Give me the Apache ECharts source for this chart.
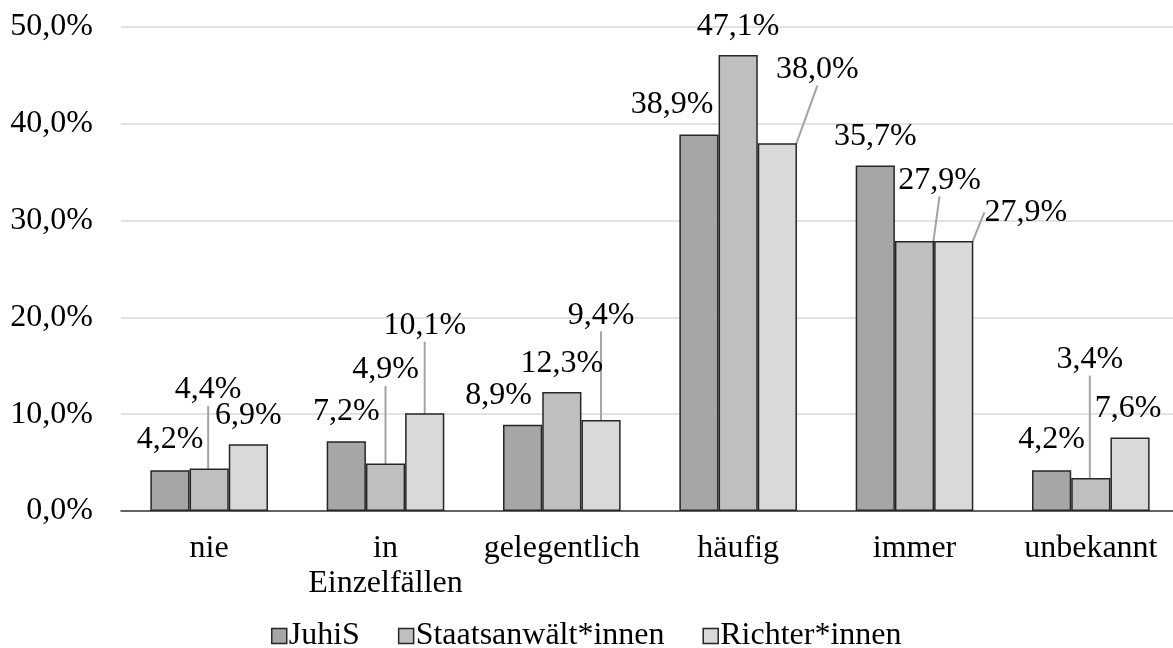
<!DOCTYPE html>
<html>
<head>
<meta charset="utf-8">
<title>Häufigkeit</title>
<script src="https://cdn.jsdelivr.net/npm/echarts@6/dist/echarts.min.js"></script>
<style>
  html, body { margin: 0; padding: 0; background: #fff; }
  #main { width: 1173px; height: 648px; }
</style>
</head>
<body>
<div id="main"></div>
<script>
// Daten
var categories = ['nie', 'in\nEinzelfällen', 'gelegentlich', 'häufig', 'immer', 'unbekannt'];
var seriesNames = ['JuhiS', 'Staatsanwält*innen', 'Richter*innen'];
var juhis = [4.2, 7.2, 8.9, 38.9, 35.7, 4.2];
var staatsanwaelte = [4.4, 4.9, 12.3, 47.1, 27.9, 3.4];
var richter = [6.9, 10.1, 9.4, 38.0, 27.9, 7.6];

// Verschiebung der Beschriftungen [dx, dy] und ob eine Führungslinie gezeichnet wird
var shifts = [
    [[0, -10], [0, -9], [-24, -9], [-27, -9], [0, -8], [0, -10]],
    [[-1, -58], [0, -73], [0, -8], [0, -8], [25, -40], [-1, -98]],
    [[0, -8], [0, -67], [0, -84], [40, -53], [72, -8], [-2, -8]]
];
var guides = [
    [false, false, false, false, false, false],
    [true, true, false, false, true, true],
    [false, true, true, true, true, false]
];
var colors = ['#a6a6a6', '#bfbfbf', '#d9d9d9'];

var font = 'Liberation Serif';
var fs = 32;
function pct(v) {
    return v.toFixed(1).replace('.', ',') + '%';
}

var values = [juhis, staatsanwaelte, richter];
var guideStyle = { color: '#a3a3a3', width: 2 };
var series = [];
for (var s = 0; s < 3; s++) {
    (function (s) {
        series.push({
            name: seriesNames[s],
            type: 'bar',
            barGap: '0%',
            barCategoryGap: '33.3%',
            itemStyle: {
                color: colors[s],
                borderColor: '#262626',
                borderWidth: 1.5
            },
            label: {
                show: true,
                position: 'top',
                distance: 5,
                fontFamily: font,
                fontSize: fs,
                lineHeight: 31,
                color: '#000',
                formatter: function (p) { return pct(p.value); }
            },
            labelLine: {
                show: false,
                lineStyle: guideStyle
            },
            labelLayout: function (p) {
                var d = shifts[s][p.dataIndex];
                return { dx: d[0], dy: d[1] };
            },
            data: values[s].map(function (v, i) {
                return {
                    value: v,
                    labelLine: { show: guides[s][i], lineStyle: guideStyle }
                };
            })
        });
    })(s);
}

var myChart = echarts.init(document.getElementById('main'));
var option = {
    backgroundColor: '#fff',
    animation: false,
    textStyle: { fontFamily: font },
    grid: {
        left: 121,
        right: -6,
        top: 27,
        bottom: 137,
        containLabel: false,
        outerBoundsMode: 'none'
    },
    legend: {
        left: 266,
        top: 615,
        itemWidth: 15,
        itemHeight: 15,
        itemGap: 38,
        icon: 'rect',
        itemStyle: { borderColor: '#262626', borderWidth: 1.5 },
        textStyle: { fontFamily: font, fontSize: fs, color: '#000', padding: [0, 0, 0, -3] },
        data: seriesNames
    },
    xAxis: {
        type: 'category',
        data: categories,
        axisTick: { show: false },
        axisLine: { lineStyle: { color: '#3a3a3a', width: 1.5 } },
        axisLabel: {
            interval: 0,
            margin: 20,
            fontFamily: font,
            fontSize: fs,
            lineHeight: 35,
            color: '#000'
        }
    },
    yAxis: {
        type: 'value',
        min: 0,
        max: 50,
        interval: 10,
        axisLine: { show: false },
        axisTick: { show: false },
        splitLine: { lineStyle: { color: '#d9d9d9', width: 1.5 } },
        axisLabel: {
            margin: 28,
            fontFamily: font,
            fontSize: fs,
            color: '#000',
            formatter: function (v) { return pct(v); }
        }
    },
    series: series
};
myChart.setOption(option);
</script>
</body>
</html>
